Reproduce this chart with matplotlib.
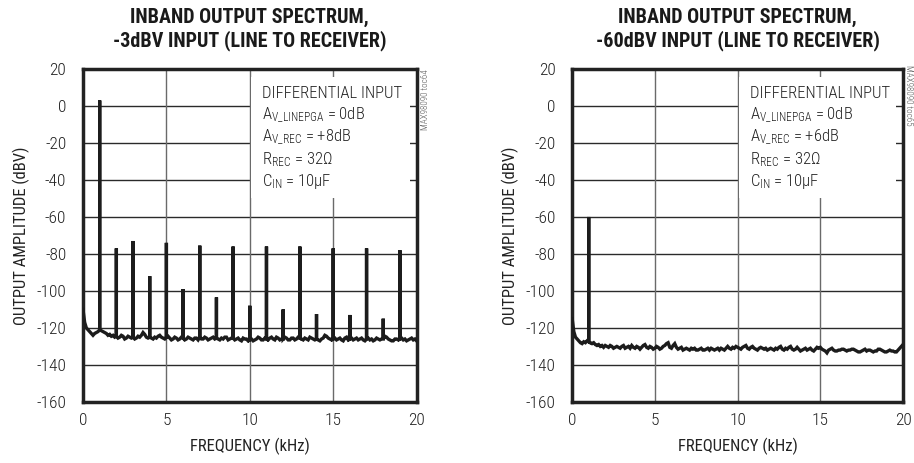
"""
Inband output spectrum, line input to receiver output (two input levels).
"""

import numpy as np
import matplotlib
matplotlib.use("Agg")
import matplotlib.pyplot as plt
from matplotlib.patches import Rectangle

FONTS = ['Roboto Condensed', 'Archivo Narrow', 'PT Sans Narrow',
         'Liberation Sans Narrow', 'DejaVu Sans']
plt.rcParams['font.family'] = FONTS
plt.rcParams['font.weight'] = 'light'
plt.rcParams['axes.unicode_minus'] = False
plt.rcParams['mathtext.fontset'] = 'custom'
plt.rcParams['mathtext.rm'] = FONTS[0] + ':light'
plt.rcParams['mathtext.it'] = FONTS[0] + ':light'

floor_freq = np.arange(0, 20.001, 0.1)

# Noise floor, -3dBV input (dBV)
floor_a = [-110, -117, -120, -121, -122, -123, -124, -123, -122.5, -122,
           -121, -121.5, -122, -122.5, -123, -124, -123.5, -124.5, -124, -125,
           -124.5, -125.5, -125, -124, -124.5, -126, -125.5, -124.5, -125, -125.5,
           -125, -126, -125.5, -124.5, -125, -124, -122.5, -123.5, -125, -125.5,
           -125, -125.5, -126, -125, -125.5, -124.5, -124, -125, -125.5, -126,
           -125, -124.5, -125.5, -126.5, -126, -125, -125.5, -126.5, -126, -125,
           -125.5, -126.5, -126, -125, -125.5, -126, -126.5, -125.5, -125.5, -126.5,
           -125, -126, -126, -125, -125.5, -126.5, -126, -125.5, -125, -126,
           -125.5, -126, -126.5, -125.5, -126, -125, -125, -126.5, -126, -125.5,
           -125.5, -126.5, -126, -125.5, -126.5, -127, -125.5, -126, -126, -127,
           -126.5, -126, -127, -126.5, -126, -125, -125.5, -126.5, -126.5, -125.5,
           -126, -126.5, -125.5, -125, -126, -126.5, -125, -125.5, -126.5, -126,
           -126, -125, -125.5, -126.5, -126.5, -125.5, -125.5, -126.5, -126, -125,
           -125.5, -126, -126.5, -125.5, -126, -126.5, -125, -125.5, -126, -126.5,
           -126, -126.5, -127, -126, -125.5, -124, -124.5, -125.5, -126, -126.5,
           -126, -125.5, -126.5, -126, -125.5, -126.5, -127, -125.5, -125, -126.5,
           -126, -125.5, -126.5, -126, -125.5, -126.5, -126, -125.5, -126.5, -127,
           -126, -125.5, -126.5, -126, -127, -126.5, -125.5, -126, -126.5, -126,
           -126, -124.5, -125, -126, -126.5, -127, -127, -126, -126, -126.5,
           -126, -125.5, -126.5, -126, -127, -126.5, -126, -125.5, -126.5, -126,
           -127]

# Noise floor, -60dBV input (dBV)
floor_b = [-115, -122, -125, -126, -127, -128, -128.5, -127.5, -128, -127,
           -127.5, -128, -128.5, -128, -129, -129.5, -129, -130, -129.5, -130.5,
           -129.5, -130, -130.5, -129.5, -130, -131, -130.5, -130, -130.5, -131,
           -130, -129.5, -131, -130.5, -130, -131, -129.5, -130.5, -131, -130,
           -130.5, -131.5, -130.5, -129.5, -129, -130.5, -131, -130, -130.5, -131.5,
           -131, -130, -130.5, -131.5, -131, -130, -129.5, -128.5, -128, -130.5,
           -131, -129.5, -128.5, -130.5, -131.5, -131, -130.5, -132, -131.5, -131,
           -131.5, -132, -131, -131.5, -131, -132, -132, -131.5, -131, -132,
           -132, -131.5, -131, -132, -131, -131.5, -132, -131.5, -131, -132,
           -131, -131.5, -132, -131, -130, -131, -131.5, -130.5, -131, -130,
           -130.5, -131, -131.5, -130.5, -130, -129.5, -131, -131.5, -130.5, -130,
           -131, -131.5, -132, -131, -130.5, -131, -131.5, -131, -132, -131.5,
           -131, -131.5, -132, -131, -131.5, -130.5, -130, -131.5, -132, -131,
           -131.5, -130.5, -130, -131.5, -132, -131.5, -130.5, -131.5, -132.5, -132,
           -131.5, -131, -132, -131.5, -131, -132, -132.5, -131.5, -130.5, -131,
           -130.5, -131.5, -132, -132.5, -133.5, -132, -131.5, -131, -132, -132.5,
           -132.5, -132, -132, -131.5, -131.5, -132, -132.5, -132, -132, -131.5,
           -131.5, -132, -132.5, -133, -133, -132.5, -132, -131.5, -132.5, -132,
           -132, -132.5, -133, -132.5, -132.5, -131.5, -131.5, -132, -132.5, -133,
           -133, -132.5, -132, -132.5, -132.5, -133, -133, -132, -131, -130,
           -129]

# Tones: fundamental + harmonics (kHz, dBV peak)
tones_a_freq = [1, 2, 3, 4, 5, 6, 7, 8, 9, 10, 11, 12, 13, 14, 15, 16, 17, 18, 19]
tones_a_level = [3, -77, -73, -92, -74, -99, -75.5, -103.5, -76, -108, -76,
                 -110, -76, -112.5, -77, -113, -77, -115, -78]
tones_b_freq = [1]
tones_b_level = [-60]

titles = ["INBAND OUTPUT SPECTRUM,\n-3dBV INPUT (LINE TO RECEIVER)",
          "INBAND OUTPUT SPECTRUM,\n-60dBV INPUT (LINE TO RECEIVER)"]
notes = [["DIFFERENTIAL INPUT",
          r"A$_{\mathrm{V\_LINEPGA}}$ = 0dB",
          r"A$_{\mathrm{V\_REC}}$ = +8dB",
          r"R$_{\mathrm{REC}}$ = 32Ω",
          r"C$_{\mathrm{IN}}$ = 10µF"],
         ["DIFFERENTIAL INPUT",
          r"A$_{\mathrm{V\_LINEPGA}}$ = 0dB",
          r"A$_{\mathrm{V\_REC}}$ = +6dB",
          r"R$_{\mathrm{REC}}$ = 32Ω",
          r"C$_{\mathrm{IN}}$ = 10µF"]]
tags = ["MAX98090 toc64", "MAX98090 toc65"]


def trace(freq, floor, tone_f, tone_l):
    # floor line with a vertical spike at each tone frequency
    xs, ys = [], []
    for f, v in zip(freq, floor):
        f = round(f, 1)
        xs.append(f); ys.append(v)
        if f in tone_f:
            xs += [f, f]
            ys += [tone_l[tone_f.index(f)], v]
    return xs, ys


fig = plt.figure(figsize=(9.14, 4.63), dpi=100)
axes = [fig.add_axes([0.0908, 0.132, 0.365, 0.719]),
        fig.add_axes([0.626, 0.132, 0.362, 0.719])]

data = [(floor_a, tones_a_freq, tones_a_level),
        (floor_b, tones_b_freq, tones_b_level)]

for i, ax in enumerate(axes):
    floor, tf, tl = data[i]
    xs, ys = trace(floor_freq, floor, tf, tl)
    ax.plot(xs, ys, color='#1c1c1c', lw=2.4, solid_joinstyle='miter', zorder=4)

    ax.set_xlim(0, 20)
    ax.set_ylim(-160, 20)
    ax.set_xticks([0, 5, 10, 15, 20])
    ax.set_yticks(np.arange(-160, 21, 20))
    ax.tick_params(length=0, labelsize=12.5, colors='#222222')
    ax.tick_params(axis='x', pad=8)
    ax.tick_params(axis='y', pad=12)
    for y in range(-140, 20, 20):
        ax.axhline(y, color='#2a2a2a', lw=1.0, zorder=1)
    for x in (5, 10, 15):
        ax.axvline(x, color='#6a6a6a', lw=1.0, zorder=1)
    for s in ax.spines.values():
        s.set_linewidth(2.5)
        s.set_color('#222222')

    # white box behind the notes
    ax.add_patch(Rectangle((10.1, -49.5), 9.5, 65, facecolor='white',
                           edgecolor='none', zorder=2))
    for j, line in enumerate(notes[i]):
        ax.text(10.75, 7 - j * 12, line, fontsize=12, va='center',
                ha='left', color='#222222', zorder=3)

    ax.set_xlabel("FREQUENCY (kHz)", fontsize=12, color='#222222', labelpad=7)
    ax.set_ylabel("OUTPUT AMPLITUDE (dBV)", fontsize=12, color='#222222',
                  labelpad=5)
    ax.set_title(titles[i], fontsize=14.5, fontweight='black', color='#1a1a1a',
                 pad=16, linespacing=1.25)

fig.text(0.4655, 0.851, tags[0], rotation=90, fontsize=6.5, color='#555555',
         ha='center', va='top')
fig.text(0.9935, 0.86, tags[1], rotation=270, fontsize=6.5, color='#555555',
         ha='center', va='top')

fig.savefig("out.png", dpi=100, facecolor='white')
